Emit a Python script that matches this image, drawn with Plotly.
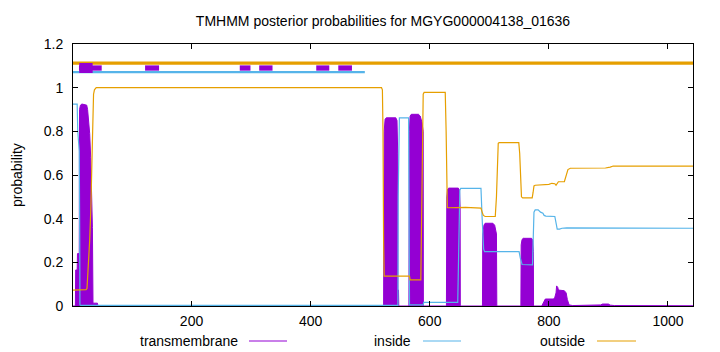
import plotly.graph_objects as go

# ---------------- data ----------------
seq_len = 1042
title_text = "TMHMM posterior probabilities for MGYG000004138_01636"

# transmembrane posterior (breakpoints)
tm_pos = [1, 5, 5.5, 8, 8.5, 11.5, 12, 13.5, 16, 24, 25.5, 27, 29, 30.7, 32.4, 33.6, 34.6, 42, 43,
          522.5, 523.5, 525, 527, 543, 545, 546.2, 546.5, 547.5, 548,
          565, 565.7, 567, 569, 581, 584, 587, 589, 589.3,
          628, 628.6, 630, 632, 648, 650, 651, 651.3,
          688.5, 689, 691, 693, 706, 709, 712, 712.6,
          753, 753.5, 755, 757, 771, 773, 774, 774.3,
          788, 791, 794, 808, 810, 812, 813, 815, 816, 826, 829, 831, 834, 840,
          870, 880, 887, 890, 900, 903, 910, 1042]
tm_val = [0, 0, 0.165, 0.165, 0.24, 0.24, 0.9, 0.92, 0.925, 0.92, 0.9, 0.85, 0.79, 0.68, 0.48, 0.36, 0.013, 0.013, 0,
          0, 0.8, 0.855, 0.862, 0.862, 0.85, 0.7, 0.073, 0.073, 0,
          0, 0.8, 0.87, 0.878, 0.878, 0.87, 0.84, 0.8, 0,
          0, 0.5, 0.535, 0.54, 0.54, 0.53, 0.45, 0,
          0, 0.33, 0.37, 0.379, 0.379, 0.37, 0.33, 0,
          0, 0.28, 0.305, 0.31, 0.31, 0.3, 0.25, 0,
          0, 0.02, 0.032, 0.032, 0.04, 0.06, 0.092, 0.085, 0.073, 0.07, 0.06, 0.03, 0.005, 0.002,
          0.003, 0.003, 0.005, 0.009, 0.009, 0.004, 0.002, 0.001]

# inside posterior
in_pos = [1, 8, 9, 10, 11.5, 12.3, 12.6, 14, 546.5, 547, 548, 549, 564.5, 565.5, 566, 589, 590,
          647, 649, 650.5, 652, 686, 688, 690.5, 692, 750, 752, 755, 772.5, 773.5, 775, 777,
          782, 786, 790, 792, 795, 810, 812, 814, 818, 822, 830, 880, 890, 1042]
in_val = [0.925, 0.925, 0.8, 0.73, 0.71, 0.3, 0.005, 0.003, 0.003, 0.5, 0.85, 0.862, 0.862, 0.5, 0.005, 0.005, 0.017,
          0.017, 0.3, 0.53, 0.539, 0.539, 0.4, 0.26, 0.249, 0.249, 0.22, 0.19, 0.188, 0.3, 0.43, 0.44,
          0.44, 0.43, 0.425, 0.415, 0.412, 0.41, 0.38, 0.352, 0.352, 0.356, 0.358, 0.358, 0.356, 0.356]

# outside posterior
out_pos = [1, 23, 24.5, 26, 27.5, 29, 31, 32.5, 34, 35.5, 37, 40, 519, 520.5, 521.5, 522.5, 523.5,
           566, 567, 585, 586, 587.5, 589, 590.5, 626, 627.5, 628.5, 629.5, 660, 686, 688, 690, 693,
           710, 712, 713.5, 715, 716.5, 749.5, 751, 752.5, 754, 756, 772, 773.5, 775, 777,
           790, 800, 805, 810, 812, 814, 816, 826, 829, 832, 836, 870, 895, 903, 908, 1042]
out_val = [0.073, 0.075, 0.08, 0.14, 0.195, 0.3, 0.45, 0.58, 0.8, 0.97, 0.99, 1.0, 1.0, 0.99, 0.8, 0.3, 0.137,
           0.137, 0.12, 0.12, 0.3, 0.8, 0.97, 0.978, 0.978, 0.8, 0.5, 0.45, 0.452, 0.448, 0.43, 0.415, 0.41,
           0.41, 0.5, 0.7, 0.745, 0.748, 0.748, 0.7, 0.55, 0.5, 0.495, 0.495, 0.52, 0.55, 0.553,
           0.555, 0.557, 0.562, 0.56, 0.553, 0.56, 0.569, 0.57, 0.6, 0.625, 0.631, 0.631, 0.632, 0.636, 0.641, 0.641]

# predicted topology track at the top
top_out_start, top_out_end, top_out_y = [1], [1042], 1.112
top_in_start, top_in_end, top_in_y = [1], [491], 1.071
top_tm_start = [11, 122, 281, 313.6, 409.4, 446.4]
top_tm_end = [49.2, 145.5, 299, 336, 431.3, 469.4]
top_tm_y = 1.09
top_tm_main_start, top_tm_main_end = [11.5], [34]

legend_names = ["transmembrane", "inside", "outside"]

# ---------------- styling ----------------
C_TM = "#9400D3"
C_IN = "#56B4E9"
C_OUT = "#E69F00"
FONT = "Liberation Sans, Arial, sans-serif"


def segs(starts, ends, y):
    xs, ys = [], []
    for s, e in zip(starts, ends):
        xs += [s, e, None]
        ys += [y, y, None]
    return xs, ys


fig = go.Figure()
fig.add_trace(go.Scatter(x=tm_pos, y=tm_val, mode="lines", fill="tozeroy",
                         line=dict(color=C_TM, width=1), fillcolor=C_TM,
                         name=legend_names[0], showlegend=False))
fig.add_trace(go.Scatter(x=in_pos, y=in_val, mode="lines", line=dict(color=C_IN, width=1.2),
                         name=legend_names[1], showlegend=False))
fig.add_trace(go.Scatter(x=out_pos, y=out_val, mode="lines", line=dict(color=C_OUT, width=1.2),
                         name=legend_names[2], showlegend=False))

x, y = segs(top_out_start, top_out_end, top_out_y)
fig.add_trace(go.Scatter(x=x, y=y, mode="lines", line=dict(color=C_OUT, width=3.3), showlegend=False))
x, y = segs(top_in_start, top_in_end, top_in_y)
fig.add_trace(go.Scatter(x=x, y=y, mode="lines", line=dict(color=C_IN, width=2.4), showlegend=False))
x, y = segs(top_tm_start, top_tm_end, top_tm_y)
fig.add_trace(go.Scatter(x=x, y=y, mode="lines", line=dict(color=C_TM, width=5.3), showlegend=False))
x, y = segs(top_tm_main_start, top_tm_main_end, top_tm_y)
fig.add_trace(go.Scatter(x=x, y=y, mode="lines", line=dict(color=C_TM, width=10), showlegend=False))

# ---------------- layout ----------------
W, H = 720, 352
ml, mr, mt, mb = 73, 27, 44, 46
pw, ph = W - ml - mr, H - mt - mb


def px2paper_x(px):
    return (px - ml) / pw


def px2paper_y(py):
    return (H - mb - py) / ph


annotations = [dict(text="probability", x=px2paper_x(17), y=px2paper_y(175), xref="paper", yref="paper",
                    textangle=-90, showarrow=False, xanchor="center", yanchor="middle",
                    font=dict(family=FONT, size=14, color="black"))]
shapes = []
legend_items = [(legend_names[0], C_TM, 240, 249, 287),
                (legend_names[1], C_IN, 413, 423, 461),
                (legend_names[2], C_OUT, 587, 597, 636)]
ly = 341
for name, col, tx, l0, l1 in legend_items:
    annotations.append(dict(text=name, x=px2paper_x(tx), y=px2paper_y(ly), xref="paper", yref="paper",
                            showarrow=False, xanchor="right", yanchor="middle",
                            font=dict(family=FONT, size=14, color="black")))
    shapes.append(dict(type="line", xref="paper", yref="paper", x0=px2paper_x(l0), x1=px2paper_x(l1),
                       y0=px2paper_y(ly), y1=px2paper_y(ly), line=dict(color=col, width=1.2)))

fig.update_layout(
    width=W, height=H, margin=dict(l=ml, r=mr, t=mt, b=mb, pad=0),
    paper_bgcolor="white", plot_bgcolor="white",
    font=dict(family=FONT, size=14, color="black"),
    title=dict(text=title_text, x=0.5, xref="paper", xanchor="center",
               y=1 - 21 / H, yref="container", yanchor="middle",
               font=dict(family=FONT, size=14, color="black")),
    showlegend=False,
    annotations=annotations, shapes=shapes,
    xaxis=dict(range=[1, seq_len], tick0=0, dtick=200, ticks="inside", ticklen=5, tickcolor="black",
               showline=True, linecolor="black", linewidth=1, mirror="allticks", showgrid=False,
               zeroline=False, tickfont=dict(family=FONT, size=14), ticklabelstandoff=2),
    yaxis=dict(range=[0, 1.2], tick0=0, dtick=0.2, ticks="inside", ticklen=5, tickcolor="black",
               showline=True, linecolor="black", linewidth=1, mirror="allticks", showgrid=False,
               zeroline=False, tickfont=dict(family=FONT, size=14), ticklabelstandoff=6),
)

fig.write_html("out.html")
